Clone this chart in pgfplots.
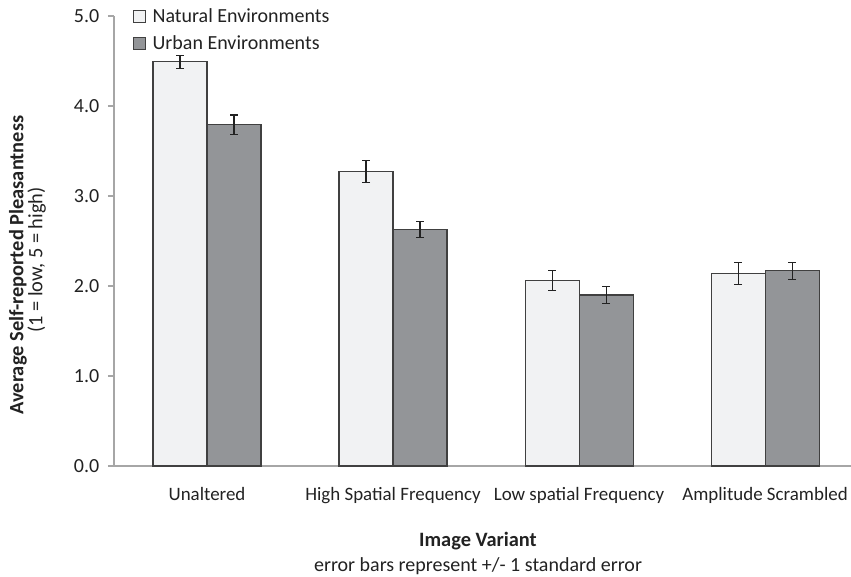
\documentclass[border=0pt]{standalone}
\usepackage{pgfplots}
\pgfplotsset{compat=1.18}
\usepackage{fontspec}
\setmainfont{Carlito}
\definecolor{natfill}{HTML}{F1F2F3}
\definecolor{urbfill}{HTML}{939598}
\definecolor{edgec}{HTML}{404040}
\definecolor{axc}{HTML}{A6A6A6}
\definecolor{txt}{HTML}{222222}
\begin{document}
\begin{tikzpicture}
\path[use as bounding box] (-85.5pt,-83.25pt) rectangle (552.75pt,349.5pt);
\begin{axis}[
  at={(0,0)}, anchor=south west,
  scale only axis, width=552.75pt, height=337.5pt,
  ybar=0pt, bar width=40.5pt,
  xmin=-0.5, xmax=3.462, ymin=0, ymax=5,
  axis x line*=bottom, axis y line*=left,
  axis line style={axc, line width=0.8pt},
  xtick={0,1,2,3},
  xticklabels={Unaltered,High Spatial Frequency,Low spatial Frequency,Amplitude Scrambled},
  x tick style={draw=none},
  extra x ticks={0.5,1.5,2.5},
  extra x tick labels={},
  extra x tick style={tick style={draw=axc, line width=0.8pt}, major tick length=4.5pt, tick align=outside},
  ytick={0,1,2,3,4,5},
  y tick style={axc, line width=0.8pt},
  tick align=outside, major tick length=4.5pt,
  /pgf/number format/fixed, /pgf/number format/fixed zerofill, /pgf/number format/precision=1,
  /pgf/number format/assume math mode=true,
  tick label style={font=\fontsize{15}{18}\selectfont, text=txt},
  xticklabel style={yshift=-8pt, font=\fontsize{14.2}{17}\selectfont},
  yticklabel style={xshift=-3pt},
  legend style={at={(rel axis cs:0.026,1.024)}, anchor=north west, draw=none, fill=none,
    font=\fontsize{15}{18}\selectfont, text=txt, row sep=5pt, inner sep=0pt},
  legend cell align=left,
  legend image code/.code={\draw[#1, line width=0.8pt] (0pt,-4.5pt) rectangle (9pt,4.5pt); \path[draw=none, fill=none] (0pt,0pt) -- (12pt,0pt);},
  error bars/y dir=both, error bars/y explicit,
  error bars/error bar style={line width=0.8pt, color=txt},
  error bars/error mark options={rotate=90, mark size=3pt, line width=0.8pt, color=txt},
  clip=false,
]
\addplot[fill=natfill, draw=edgec, line width=0.8pt] coordinates {
  (0,4.49) +- (0,0.07)
  (1,3.27) +- (0,0.12)
  (2,2.06) +- (0,0.11)
  (3,2.14) +- (0,0.12)
};
\addplot[fill=urbfill, draw=edgec, line width=0.8pt] coordinates {
  (0,3.79) +- (0,0.11)
  (1,2.63) +- (0,0.09)
  (2,1.90) +- (0,0.09)
  (3,2.17) +- (0,0.095)
};
\legend{Natural Environments,Urban Environments}
\end{axis}
\node[rotate=90, font=\fontsize{15.3}{18}\selectfont\bfseries, text=txt] at (-72pt,150.75pt) {Average Self-reported Pleasantness};
\node[rotate=90, font=\fontsize{15.3}{18}\selectfont, text=txt] at (-58pt,154.5pt) {(1 = low, 5 = high)};
\node[font=\fontsize{15.3}{18}\selectfont\bfseries, text=txt] at (273pt,-56pt) {Image Variant};
\node[font=\fontsize{15}{18}\selectfont, text=txt] at (273pt,-75pt) {error bars represent +/- 1 standard error};
\end{tikzpicture}
\end{document}
